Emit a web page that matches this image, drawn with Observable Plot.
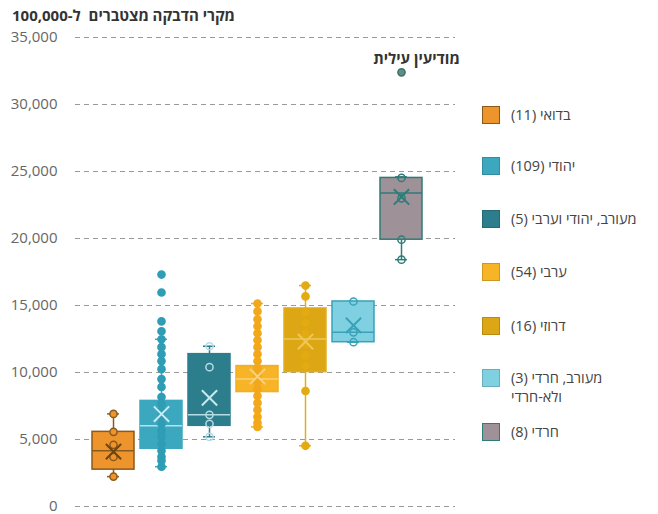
<!DOCTYPE html>
<html><head><meta charset="utf-8">
<script src="https://cdn.jsdelivr.net/npm/d3@7"></script>
<script src="https://cdn.jsdelivr.net/npm/@observablehq/plot@0.6"></script>
<style>
body{margin:0;background:#fff;font-family:"Open Sans","Liberation Sans","DejaVu Sans",sans-serif;}
#wrap{position:relative;width:658px;height:514px;overflow:hidden;}
#title{position:absolute;left:12px;top:5px;direction:rtl;font-size:15px;font-weight:bold;color:#333;white-space:pre;}
.leg{position:absolute;left:482px;display:flex;align-items:flex-start;}
.sw{width:16px;height:16px;border:1.5px solid;flex:none;}
.lt{margin-left:11px;direction:rtl;text-align:left;font-size:14.5px;color:#444;line-height:19px;white-space:pre;margin-top:-1px;}
</style></head>
<body><div id="wrap"><div id="title">מקרי הדבקה מצטברים  ל-100,000</div></div>
<script>
const groups = ["בדואי","יהודי","מעורב, יהודי וערבי","ערבי","דרוזי","מעורב, חרדי ולא-חרדי","חרדי"];
const counts = [11,109,5,54,16,3,8];
const legendLines = [["בדואי (11)"],["יהודי (109)"],["מעורב, יהודי וערבי (5)"],["ערבי (54)"],["דרוזי (16)"],["מעורב, חרדי (3)","ולא-חרדי"],["חרדי (8)"]];
const q1 = [2750, 4310, 6020, 8540, 10030, 12260, 19910];
const medians = [4160, 6020, 6840, 9510, 12500, 13000, 23400];
const q3 = [5570, 7880, 11370, 10480, 14780, 15300, 24520];
const whiskerLow = [2230, 2970, 5200, 5940, 4530, 12260, 18420];
const whiskerHigh = [6910, 12480, 11960, 15150, 16490, 15300, 24600];
const means = [4100, 6900, 8110, 9700, 12300, 13520, 23100];
const points = [
  [2230, 3700, 4600, 5570, 6910],
  [17310, 15970, 13820, 13080, 12480, 11890, 11370, 10850, 10250, 9510, 8920, 8170, 7650, 7130, 6690, 6170, 5650, 5200, 4680, 4160, 3710, 3420, 2970],
  [5200, 6170, 6840, 10400, 11960],
  [15150, 14560, 13970, 13450, 12930, 12410, 11890, 11370, 10850, 10330, 9810, 9290, 8770, 8250, 7730, 7210, 6690, 6240, 5940],
  [16490, 15680, 14500, 13700, 12900, 12100, 11300, 10500, 8620, 4530],
  [12260, 13000, 15300],
  [18420, 19910, 23000, 24520, 32400]
];
const outlierName = "מודיעין עילית";
const outlierValue = 32400;
const yTicks = [0, 5000, 10000, 15000, 20000, 25000, 30000, 35000];

// styles
const fills = ["#EE942C","#3CA8BF","#2C7E8D","#F6B426","#DCA614","#7FD0E1","#9E9197"];
const strokes = ["#8A5A1C","#3CA8BF","#2C7E8D","#F3AE22","#E3AD1C","#3AA2B8","#2E7C78"];
const medianColors = ["#8A5A1C","#B5E2EC","#B5DCE3","#FAD27A","#EDC75A","#3AA2B8","#2E7C78"];
const meanColors = ["#6B4512","#C8ECF3","#C8E8EE","#FAD27A","#EDC75A","#3AA2B8","#2E7C78"];
const dotFills = ["#EE942C","#2E9DB5","none","#F2A81A","#E3AA12","none","none"];
const dotStrokes = ["#8A5A1C","#2E9DB5","#B5DCE3","#F2A81A","#E3AA12","#3AA2B8","#2E7C78"];

const rows = groups.map((g,i)=>({group:g,q1:q1[i],med:medians[i],q3:q3[i],lo:whiskerLow[i],hi:whiskerHigh[i],mean:means[i],
  fill:fills[i],stroke:strokes[i],mc:medianColors[i],xc:meanColors[i]}));
const pts = [];
points.forEach((arr,i)=>arr.forEach(v=>{
  const out = (i===6 && v===outlierValue);
  pts.push({group:groups[i],v,fill: out ? "#5E8F86" : dotFills[i], stroke: out ? "#3F6F68" : dotStrokes[i]});
}));
const labelData = [{group:groups[6], v:outlierValue, label:outlierName}];

const chart = Plot.plot({
  width:658, height:514,
  marginTop:37, marginBottom:8, marginLeft:75, marginRight:203,
  style:{fontFamily:'"Open Sans","Liberation Sans","DejaVu Sans",sans-serif', background:"transparent", overflow:"visible"},
  x:{type:"band", domain:groups, range:[86,429], padding:0.12, axis:null},
  y:{domain:[0,35000], ticks:yTicks},
  color:{type:"identity"},
  marks:[
    Plot.ruleY(yTicks,{stroke:"#9a9a9a", strokeDasharray:"5,4", strokeWidth:1}),
    Plot.axisY(yTicks,{tickFormat:d3.format(","), tickSize:0, tickPadding:18, fontSize:15, fill:"#666", label:null}),
    Plot.ruleX(rows,{x:"group", y1:"lo", y2:"hi", stroke:"stroke", strokeWidth:1.5}),
    Plot.tickY(rows,{x:"group", y:"hi", stroke:"stroke", strokeWidth:1.5, insetLeft:15, insetRight:15}),
    Plot.tickY(rows,{x:"group", y:"lo", stroke:"stroke", strokeWidth:1.5, insetLeft:15, insetRight:15}),
    Plot.barY(rows,{x:"group", y1:"q1", y2:"q3", fill:"fill", stroke:"stroke", strokeWidth:1.5}),
    Plot.tickY(rows,{x:"group", y:"med", stroke:"mc", strokeWidth:1.5}),
    Plot.dot(pts,{x:"group", y:"v", r:3.6, fill:"fill", stroke:"stroke", strokeWidth:1.5}),
    Plot.dot(rows,{x:"group", y:"mean", symbol:"times", r:7, stroke:"xc", strokeWidth:2}),
    Plot.text(labelData,{x:"group", y:"v", text:"label", dx:15, dy:-13, fontSize:15, fontWeight:"bold", fill:"#333"})
  ]
});
const wrap = document.getElementById("wrap");
wrap.appendChild(chart);

const legY = [106, 157, 210, 263, 317, 369, 423];
groups.forEach((g,i)=>{
  const d = document.createElement("div");
  d.className="leg"; d.style.top = legY[i]+"px";
  const sw = document.createElement("div"); sw.className="sw";
  sw.style.background = fills[i]; sw.style.borderColor = i===0 ? "#8A5A1C" : (i===6 ? "#2E7C78" : d3.color(fills[i]).darker(0.5));
  const t = document.createElement("div"); t.className="lt";
  t.textContent = legendLines[i].join("\n");
  d.appendChild(sw); d.appendChild(t); wrap.appendChild(d);
});
</script></body></html>
